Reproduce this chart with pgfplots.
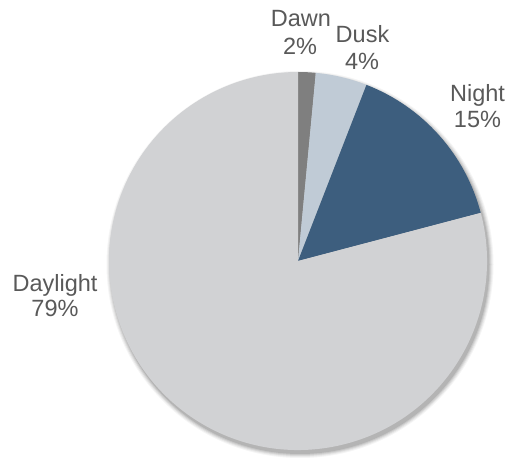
\documentclass[border=0pt]{standalone}
\usepackage{pgfplots}
\pgfplotsset{compat=1.18}
\usepackage{pgfplotstable}
\usepackage{fontspec}
\setmainfont{Liberation Sans}
\definecolor{cDawn}{HTML}{7F7F7F}
\definecolor{cDusk}{HTML}{C0CBD6}
\definecolor{cNight}{HTML}{3D5E7E}
\definecolor{cDay}{HTML}{D1D2D4}
\definecolor{txt}{HTML}{595959}
\pgfplotstableread{
label value
Dawn 1.5
Dusk 4.4
Night 15.0
Daylight 79.1
}\piedata
\begin{document}
\begin{tikzpicture}
\pgfplotstablegetelem{0}{value}\of\piedata \edef\vA{\pgfplotsretval}
\pgfplotstablegetelem{1}{value}\of\piedata \edef\vB{\pgfplotsretval}
\pgfplotstablegetelem{2}{value}\of\piedata \edef\vC{\pgfplotsretval}
\pgfplotstablegetelem{3}{value}\of\piedata \edef\vD{\pgfplotsretval}
\pgfmathsetmacro\aA{90}
\pgfmathsetmacro\aB{\aA-3.6*\vA}
\pgfmathsetmacro\aC{\aB-3.6*\vB}
\pgfmathsetmacro\aD{\aC-3.6*\vC}
\pgfmathsetmacro\aE{\aD-3.6*\vD}
\def\R{189pt}
\begin{axis}[x=1pt,y=1pt,xmin=-298,xmax=210,ymin=-196,ymax=261,hide axis,clip=false]
\path (axis cs:-298,-196) rectangle (axis cs:210,261);
% soft shadow
\fill[black,opacity=0.04] (axis cs:2,-3.5) circle[radius=193.5pt];
\fill[black,opacity=0.05] (axis cs:2,-3.5) circle[radius=192.5pt];
\fill[black,opacity=0.07] (axis cs:2,-3.5) circle[radius=191.5pt];
\fill[black,opacity=0.08] (axis cs:2,-3.5) circle[radius=190.5pt];
\fill[black,opacity=0.10] (axis cs:2,-3.5) circle[radius=189.5pt];
% slices
\fill[cDawn] (axis cs:0,0) -- ++(\aA:\R) arc[start angle=\aA, end angle=\aB, radius=\R] -- cycle;
\fill[cDusk] (axis cs:0,0) -- ++(\aB:\R) arc[start angle=\aB, end angle=\aC, radius=\R] -- cycle;
\fill[cNight] (axis cs:0,0) -- ++(\aC:\R) arc[start angle=\aC, end angle=\aD, radius=\R] -- cycle;
\fill[cDay] (axis cs:0,0) -- ++(\aD:\R) arc[start angle=\aD, end angle=\aE, radius=\R] -- cycle;
% labels
\tikzset{lbl/.style={anchor=base,text=txt,inner sep=0pt,font=\fontsize{23.5}{27}\selectfont}}
\node[lbl] at (axis cs:3,234) {Dawn};
\node[lbl] at (axis cs:2,206) {2\%};
\node[lbl] at (axis cs:64.5,218) {Dusk};
\node[lbl] at (axis cs:64,191) {4\%};
\node[lbl] at (axis cs:179.5,159) {Night};
\node[lbl] at (axis cs:179.5,133) {15\%};
\node[lbl] at (axis cs:-243,-31) {Daylight};
\node[lbl] at (axis cs:-243,-56) {79\%};
\end{axis}
\end{tikzpicture}
\end{document}
